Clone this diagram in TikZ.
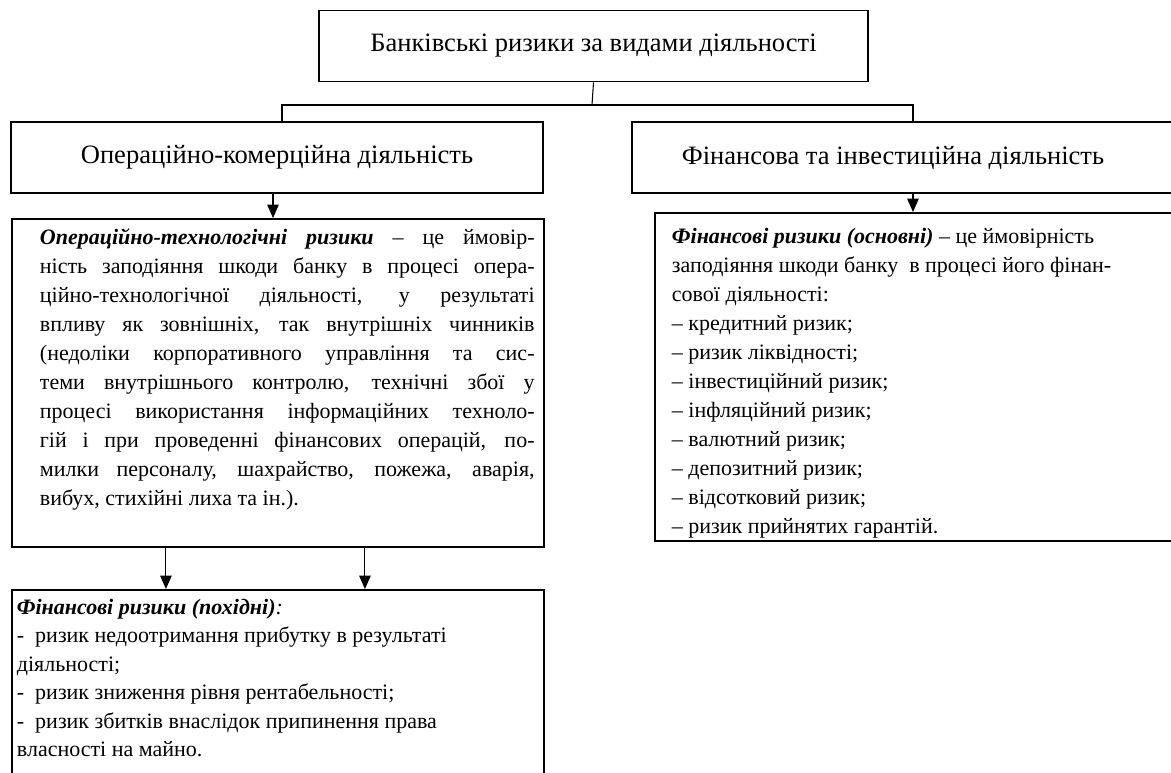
\documentclass[tikz,border=0pt]{standalone}
\usepackage{fontspec}
\setmainfont{Liberation Serif}
\usetikzlibrary{arrows.meta,positioning}
\newcommand{\jline}[1]{\makebox[371pt][s]{#1}\\}
\tikzset{
  box/.style={draw, line width=1.4pt, inner sep=0pt},
  head/.style={box, font=\fontsize{19.9}{23}\selectfont},
  link/.style={line width=0.8pt},
  arr/.style={line width=0.8pt, -{Triangle[length=10pt,width=8.6pt]}},
}
\begin{document}
\begin{tikzpicture}[x=0.75pt,y=-0.75pt,font=\fontsize{16.5}{21.75}\selectfont]
  \useasboundingbox (0,0) rectangle (1171,773);
  % top level
  \node[head, minimum width=411.75pt, minimum height=53.25pt] (vidy) at (593.5,46)
    {Банківські ризики за видами діяльності};
  \coordinate (hub) at (592,105);
  % kinds of activity
  \node[head, minimum width=399pt, minimum height=53.25pt] (opk) at (277,157.5)
    {Операційно-комерційна діяльність};
  \node[head, minimum width=411pt, minimum height=53.25pt] (fi) at (906,157.5)
    {\hspace*{-19.5pt}Фінансова та інвестиційна діяльність};
  \draw[link] (vidy.south) -- (hub);
  \draw[link] ([xshift=3.75pt]opk.north) |- (hub) -| ([xshift=5.25pt]fi.north);
  % risks
  \node[box, anchor=north west] (tech) at (11,218)
    {\parbox[c][246pt][t]{399pt}{\vspace{7.2pt}\hspace*{21pt}\parbox[t]{371pt}{%
      \jline{\textbf{\textit{Операційно-технологічні ризики}} – це ймовір-}
      \jline{ність заподіяння шкоди банку в процесі опера-}
      \jline{ційно-технологічної діяльності, у результаті}
      \jline{впливу як зовнішніх, так внутрішніх чинників}
      \jline{(недоліки корпоративного управління та сис-}
      \jline{теми внутрішнього контролю, технічні збої у}
      \jline{процесі використання інформаційних техноло-}
      \jline{гій і при проведенні фінансових операцій, по-}
      \jline{милки персоналу, шахрайство, пожежа, аварія,}
      вибух, стихійні лиха та ін.).}}};
  \node[box, anchor=north west] (fosn) at (654,212)
    {\parbox[c][246pt][t]{394.5pt}{\vspace{11.5pt}\hspace*{12.75pt}\parbox[t]{380pt}{\raggedright
      \textbf{\textit{Фінансові ризики (основні)}} – це ймовірність\\
      заподіяння шкоди банку\ \ в процесі його фінан-\\
      сової діяльності:\\
      – кредитний ризик;\\
      – ризик ліквідності;\\
      – інвестиційний ризик;\\
      – інфляційний ризик;\\
      – валютний ризик;\\
      – депозитний ризик;\\
      – відсотковий ризик;\\
      – ризик прийнятих гарантій.}}};
  \node[box, anchor=north west] (poh) at (11,589)
    {\parbox[c][172.5pt][t]{399pt}{\vspace{7pt}\hspace*{3.75pt}\parbox[t]{390pt}{\raggedright
      \fontsize{16.5}{21.3}\selectfont
      \textbf{\textit{Фінансові ризики (похідні)}}\textit{:}\\
      -\ \ ризик недоотримання прибутку в результаті\\
      діяльності;\\
      -\ \ ризик зниження рівня рентабельності;\\
      -\ \ ризик збитків внаслідок припинення права\\
      власності на майно.}}};
  % arrows
  \draw[arr] ([xshift=-3pt]opk.south) -- ([xshift=-3pt]opk.south |- tech.north);
  \draw[arr] ([xshift=5.25pt]fi.south) -- ([xshift=5.25pt]fi.south |- fosn.north);
  \draw[arr] ([xshift=-84pt]tech.south) -- ([xshift=-84pt]tech.south |- poh.north);
  \draw[arr] ([xshift=65.25pt]tech.south) -- ([xshift=65.25pt]tech.south |- poh.north);
\end{tikzpicture}
\end{document}
